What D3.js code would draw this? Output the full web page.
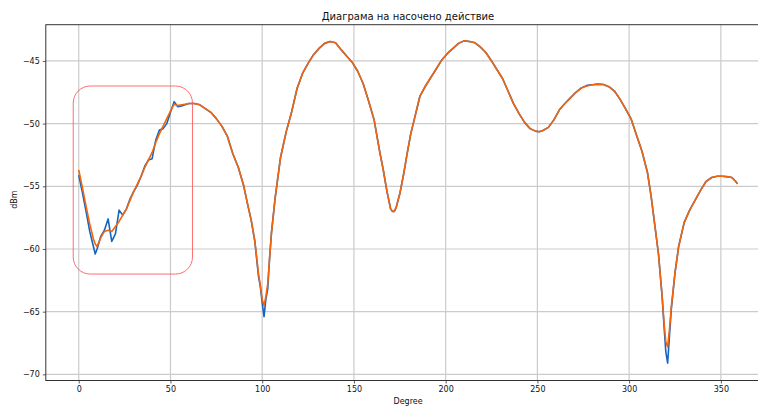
<!DOCTYPE html>
<html>
<head>
<meta charset="utf-8">
<script src="https://cdn.jsdelivr.net/npm/d3@7"></script>
<style>
  html, body { margin: 0; padding: 0; background: #fff; }
  svg { display: block; }
  text { font-family: "DejaVu Sans", sans-serif; }
</style>
</head>
<body>
<svg id="chart" width="758" height="406"></svg>
<script>
const title = "Диаграма на насочено действие";
const xLabel = "Degree";
const yLabel = "dBm";
const xTicks = [0, 50, 100, 150, 200, 250, 300, 350];
const yTicks = [-45, -50, -55, -60, -65, -70];

const degrees = [0,2,4,6,8,9,10,12,14,16,18,20,22,24,26,28,30,32,34,36,38,40,42,44,46,48,50,52,54,56,58,60,63,66,69,72,75,78,81,84,87,90,92,94,96,98,99,100,101,102,103,104,105,107,110,113,116,119,122,125,128,131,134,137,140,143,146,149,152,155,158,161,164,166,168,170,171,172,173,175,177,179,181,183,186,189,192,195,198,201,204,207,210,213,216,219,222,225,228,231,234,237,240,243,246,249,251,253,256,259,262,265,268,271,274,277,280,283,286,289,292,295,298,301,304,307,310,312,314,316,318,319,320,321,322,323,325,327,330,333,336,339,342,345,348,351,354,356,358,359];

const measured = [-54.1,-55.5,-57.0,-58.6,-59.8,-60.4,-60.0,-59.0,-58.5,-57.6,-59.4,-58.8,-56.9,-57.3,-56.8,-56.0,-55.4,-54.9,-54.2,-53.4,-52.9,-52.8,-51.3,-50.5,-50.4,-50.0,-49.1,-48.25,-48.65,-48.6,-48.5,-48.4,-48.4,-48.5,-48.8,-49.1,-49.6,-50.2,-51.0,-52.4,-53.5,-55.0,-56.4,-57.7,-59.4,-62.2,-63.0,-64.3,-65.4,-64.0,-63.2,-60.8,-58.8,-56.0,-52.7,-50.7,-49.1,-47.2,-46.0,-45.2,-44.5,-44.0,-43.6,-43.45,-43.55,-44.1,-44.6,-45.1,-45.8,-46.8,-48.2,-49.7,-52.2,-53.7,-55.4,-56.8,-57.0,-57.0,-56.7,-55.6,-54.1,-52.4,-50.8,-49.6,-47.8,-47.0,-46.3,-45.6,-44.9,-44.4,-44.0,-43.6,-43.4,-43.45,-43.55,-43.9,-44.35,-45.0,-45.7,-46.4,-47.4,-48.4,-49.2,-49.9,-50.4,-50.6,-50.65,-50.55,-50.3,-49.7,-48.9,-48.4,-47.95,-47.5,-47.15,-46.95,-46.9,-46.85,-46.88,-47.05,-47.4,-48.05,-48.8,-49.6,-50.9,-52.2,-53.9,-55.8,-58.1,-60.4,-63.8,-66.1,-68.2,-69.1,-66.9,-64.8,-61.9,-59.8,-57.9,-56.9,-56.1,-55.3,-54.6,-54.3,-54.2,-54.2,-54.25,-54.3,-54.6,-54.8];

const smoothed = [-53.7,-55.1,-56.6,-58.0,-59.2,-59.6,-59.8,-59.1,-58.6,-58.5,-58.6,-58.2,-57.8,-57.3,-56.8,-56.1,-55.4,-54.8,-54.2,-53.5,-52.9,-52.3,-51.5,-50.8,-50.2,-49.6,-49.0,-48.45,-48.55,-48.5,-48.45,-48.4,-48.4,-48.5,-48.8,-49.1,-49.6,-50.2,-51.0,-52.4,-53.5,-55.0,-56.4,-57.7,-59.4,-62.0,-62.9,-64.0,-64.5,-63.8,-62.8,-60.8,-58.8,-56.0,-52.7,-50.7,-49.1,-47.2,-46.0,-45.2,-44.5,-44.0,-43.6,-43.45,-43.55,-44.1,-44.6,-45.1,-45.8,-46.8,-48.2,-49.7,-52.2,-53.7,-55.4,-56.8,-57.0,-57.0,-56.7,-55.6,-54.1,-52.4,-50.8,-49.6,-47.8,-47.0,-46.3,-45.6,-44.9,-44.4,-44.0,-43.6,-43.4,-43.45,-43.55,-43.9,-44.35,-45.0,-45.7,-46.4,-47.4,-48.4,-49.2,-49.9,-50.4,-50.6,-50.65,-50.55,-50.3,-49.7,-48.9,-48.4,-47.95,-47.5,-47.15,-47.0,-46.9,-46.85,-46.88,-47.05,-47.4,-48.05,-48.8,-49.6,-50.9,-52.2,-53.9,-55.8,-58.1,-60.4,-63.8,-65.8,-67.4,-67.8,-66.4,-64.6,-61.9,-59.8,-57.9,-56.9,-56.1,-55.3,-54.6,-54.3,-54.2,-54.2,-54.25,-54.3,-54.6,-54.8];

const highlight = { x0: -3, x1: 62, y0: -47, y1: -62 };

const svg = d3.select("#chart");
const pLeft = 45.8, pRight = 770.3, pTop = 24.7, pBottom = 380.5;

const x = d3.scaleLinear().domain([-17.95, 376.95]).range([pLeft, pRight]);
const y = d3.scaleLinear().domain([-70.49, -42.11]).range([pBottom, pTop]);

// grid
const grid = svg.append("g");
grid.selectAll("line.gx").data(xTicks).join("line")
  .attr("class", "gx")
  .attr("x1", d => x(d)).attr("x2", d => x(d))
  .attr("y1", pTop).attr("y2", pBottom)
  .attr("stroke", "#cbcbcb").attr("stroke-width", 1.2);
grid.selectAll("line.gy").data(yTicks).join("line")
  .attr("class", "gy")
  .attr("x1", pLeft).attr("x2", pRight)
  .attr("y1", d => y(d)).attr("y2", d => y(d))
  .attr("stroke", "#cbcbcb").attr("stroke-width", 1.2);

// axes
const xAxis = d3.axisBottom(x).tickValues(xTicks).tickSize(3).tickPadding(3)
  .tickFormat(d => d3.format("d")(d));
const yAxis = d3.axisLeft(y).tickValues(yTicks).tickSize(3).tickPadding(3)
  .tickFormat(d => (d < 0 ? "\u2212" : "") + Math.abs(d));

const gx = svg.append("g").attr("transform", `translate(0,${pBottom})`).call(xAxis);
const gy = svg.append("g").attr("transform", `translate(${pLeft},0)`).call(yAxis);
[gx, gy].forEach(g => {
  g.select(".domain").remove();
  g.selectAll(".tick line").attr("stroke", "#333").attr("stroke-width", 0.8);
  g.selectAll(".tick text").attr("fill", "#111").style("font-size", "8px")
    .style("font-family", "'DejaVu Sans', sans-serif");
});

// lines
const lineOf = vals => d3.line()
  .x((d, i) => x(degrees[i]))
  .y(d => y(d))(vals);

svg.append("path").attr("d", lineOf(measured))
  .attr("fill", "none").attr("stroke", "#1565c0").attr("stroke-width", 1.6)
  .attr("stroke-linejoin", "round");
svg.append("path").attr("d", lineOf(smoothed))
  .attr("fill", "none").attr("stroke", "#f2650c").attr("stroke-width", 1.6)
  .attr("stroke-linejoin", "round");

// spines
svg.append("rect").attr("x", pLeft).attr("y", pTop)
  .attr("width", pRight - pLeft).attr("height", pBottom - pTop)
  .attr("fill", "none").attr("stroke", "#333").attr("stroke-width", 1);

// highlight box
svg.append("rect")
  .attr("x", x(highlight.x0)).attr("y", y(highlight.y0))
  .attr("width", x(highlight.x1) - x(highlight.x0))
  .attr("height", y(highlight.y1) - y(highlight.y0))
  .attr("rx", 17).attr("ry", 17)
  .attr("fill", "none").attr("stroke", "#f55").attr("stroke-opacity", 0.85)
  .attr("stroke-width", 1);

// texts
svg.append("text").attr("x", (pLeft + pRight) / 2).attr("y", 19.5)
  .attr("text-anchor", "middle").style("font-size", "10px").attr("fill", "#111")
  .text(title);
svg.append("text").attr("x", (pLeft + pRight) / 2).attr("y", 404)
  .attr("text-anchor", "middle").style("font-size", "8px").attr("fill", "#111")
  .text(xLabel);
svg.append("text").attr("transform", `translate(17,${(pTop + pBottom) / 2 - 3}) rotate(-90)`)
  .attr("text-anchor", "middle").style("font-size", "8px").attr("fill", "#111")
  .text(yLabel);
</script>
</body>
</html>
